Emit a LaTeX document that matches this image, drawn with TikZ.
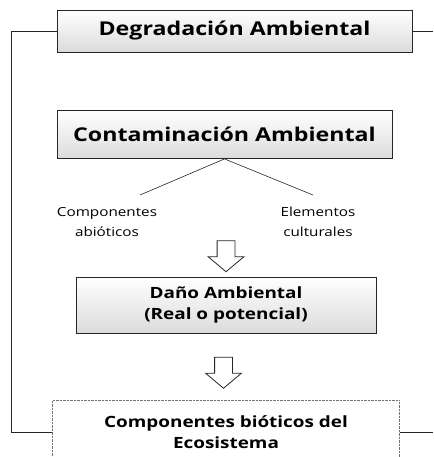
\documentclass[tikz,border=0pt]{standalone}
\usepackage{fontspec}
\setmainfont{Open Sans}[FakeStretch=1.22]
\usetikzlibrary{shapes.arrows}
\usetikzlibrary{positioning}
\tikzset{
    caja/.style={
           rectangle,
           draw=black!85, thick,
           top color=white, bottom color=black!14,
           inner sep=0pt,
           font=\bfseries\fontsize{19}{22}\selectfont,
           align=center},
    cajab/.style={
           caja,
           font=\bfseries\fontsize{15.5}{21}\selectfont},
    etiqueta/.style={
           inner sep=0pt,
           font=\fontsize{12.5}{20}\selectfont,
           align=center},
    flecha/.style={
           single arrow, draw=black!85, thick, fill=white,
           shape border rotate=270,
           inner sep=8.5pt,
           minimum height=31pt, minimum width=35pt,
           single arrow head extend=9pt,
           single arrow tip angle=100},
    linea/.style={
           draw=black!85, semithick},
}

\begin{document}
\begin{tikzpicture}[x=1pt,y=-1pt]
 \useasboundingbox (0,0) rectangle (433,457);

 \node[caja, minimum width=355pt, minimum height=42pt] (DEGRADACION)
  at (234.5,31) {Degradaci\'on Ambiental};

 \node[caja, minimum width=335pt, minimum height=48pt] (CONTAMINACION)
  at (224.5,134.5) {Contaminaci\'on Ambiental};

 \node[etiqueta] (ABIOTICOS) at (107,222) {Componentes\\abi\'oticos};
 \node[etiqueta] (CULTURALES) at (318,222) {Elementos\\culturales};

 \coordinate (RAMAA) at (140,195);
 \coordinate (RAMAB) at (313,195);

 \node[flecha] (FLECHAA) at (226,252.5) {};

 \node[cajab, minimum width=300pt, minimum height=56pt] (DANO)
  at (226,305) {Da\~no Ambiental\\(Real o potencial)};

 \node[flecha] (FLECHAB) at (223.5,369) {};

 \node[cajab, draw=black!55, thin, densely dotted, top color=white,
 bottom color=white, minimum width=347pt, minimum height=64pt] (ECOSISTEMA)
  at (226,432) {Componentes bi\'oticos del\\Ecosistema};

 \coordinate (DEGFIN) at (433,31);
 \coordinate (ECOFIN) at (433,432);

 \path[linea]
 (CONTAMINACION.south) edge (RAMAA)
 (CONTAMINACION.south) edge (RAMAB)
 (DEGRADACION.east) edge (DEGFIN)
 (ECOSISTEMA.east) edge (ECOFIN);
 \draw[linea] (DEGRADACION.west) -- ++(-45,0) |- (ECOSISTEMA.west);

\end{tikzpicture}
\end{document}
